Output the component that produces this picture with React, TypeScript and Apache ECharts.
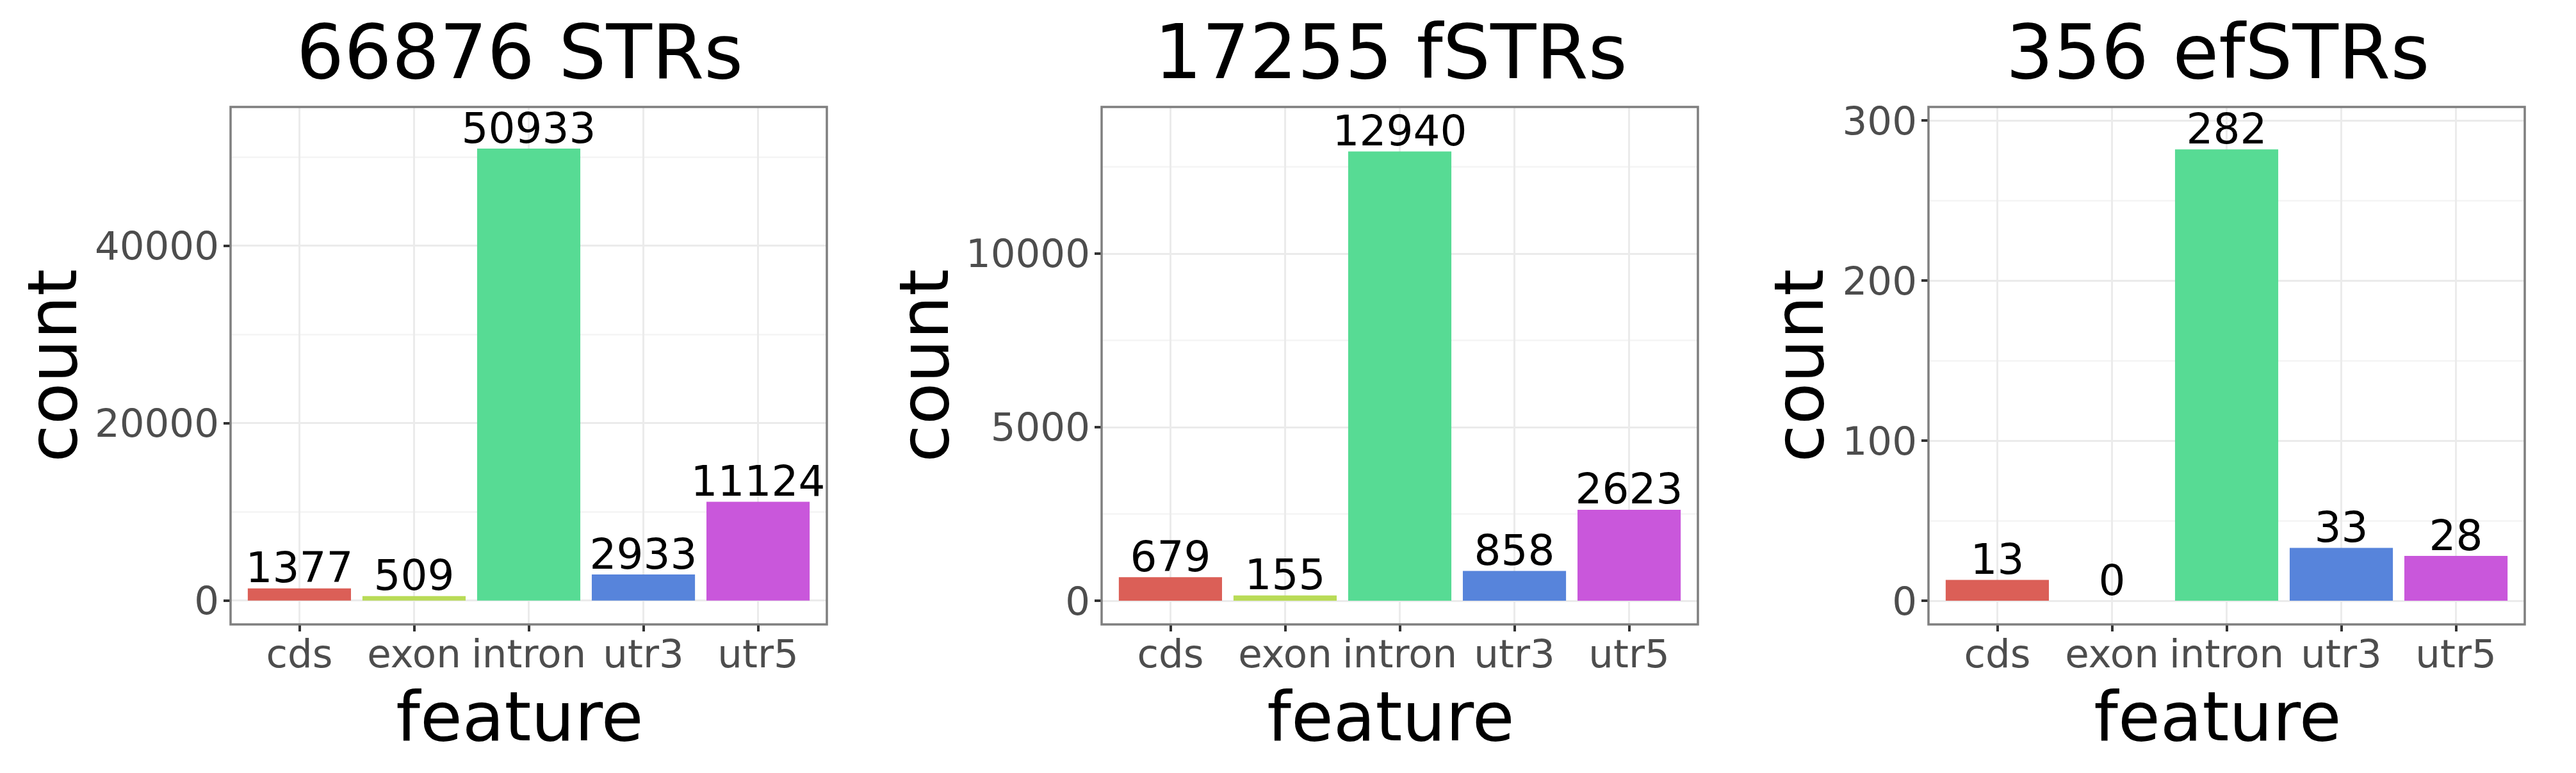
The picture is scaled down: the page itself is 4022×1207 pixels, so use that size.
import React, { useEffect, useRef } from "react";
import * as echarts from "echarts";

const categories = ["cds", "exon", "intron", "utr3", "utr5"];
const barColors = ["#DB5F57", "#B9DB57", "#57DB94", "#5784DB", "#C957DB"];
const panelTitles = ["66876 STRs", "17255 fSTRs", "356 efSTRs"];

const strCounts = [1377, 509, 50933, 2933, 11124];
const fstrCounts = [679, 155, 12940, 858, 2623];
const efstrCounts = [13, 0, 282, 33, 28];

const strMajorTicks = [0, 20000, 40000];
const strMinorTicks = [10000, 30000, 50000];
const fstrMajorTicks = [0, 5000, 10000];
const fstrMinorTicks = [2500, 7500, 12500];
const efstrMajorTicks = [0, 100, 200, 300];
const efstrMinorTicks = [50, 150, 250];

const yMins = [-2690, -680, -14.8];
const yMaxs = [55630, 14220, 308.5];

const seriesValues = [strCounts, fstrCounts, efstrCounts];
const majorTicks = [strMajorTicks, fstrMajorTicks, efstrMajorTicks];
const minorTicks = [strMinorTicks, fstrMinorTicks, efstrMinorTicks];

// layout (pixels)
const panelLefts = [360, 1720, 3011];
const panelWidth = 931;
const panelTop = 167;
const panelHeight = 808;
const yNameGaps = [225, 224, 149];

const FONT = "DejaVu Sans";

function buildOption() {
  const grid: any[] = [];
  const xAxis: any[] = [];
  const yAxis: any[] = [];
  const series: any[] = [];
  const title: any[] = [];
  const catIdx = categories.map((_, i) => i);

  for (let p = 0; p < 3; p++) {
    const left = panelLefts[p];
    const band = panelWidth / 5.2;
    const gA = grid.length;
    grid.push({
      left,
      top: panelTop,
      width: panelWidth,
      height: panelHeight,
      show: true,
      z: 3,
      backgroundColor: "transparent",
      borderColor: "#7F7F7F",
      borderWidth: 3.5,
      containLabel: false,
      outerBoundsMode: "none",
    });
    const gB = grid.length;
    grid.push({
      left: left + band * 0.1,
      top: panelTop,
      width: band * 5,
      height: panelHeight,
      show: false,
      containLabel: false,
      outerBoundsMode: "none",
    });

    xAxis.push({
      gridIndex: gA,
      type: "value",
      position: "bottom",
      min: -0.6,
      max: 4.6,
      axisLine: { show: false, onZero: false },
      axisTick: {
        show: true,
        length: 11,
        customValues: catIdx,
        lineStyle: { color: "#333333", width: 4 },
      },
      axisLabel: {
        show: true,
        customValues: catIdx,
        formatter: (v: number) => categories[Math.round(v)] ?? "",
        fontFamily: FONT,
        fontSize: 61,
        color: "#4D4D4D",
        margin: 15,
      },
      splitLine: { show: true, lineStyle: { color: "#EBEBEB", width: 3 } },
      name: "feature",
      nameLocation: "middle",
      nameGap: 90,
      nameTextStyle: {
        fontFamily: FONT,
        fontSize: 107,
        color: "#000000",
        padding: [0, 28, 0, 0],
      },
    });
    const xB = xAxis.length;
    xAxis.push({
      gridIndex: gB,
      type: "category",
      data: categories,
      show: false,
      axisLine: { onZero: false },
    });

    yAxis.push({
      gridIndex: gA,
      type: "value",
      position: "left",
      min: yMins[p],
      max: yMaxs[p],
      axisLine: { show: false, onZero: false },
      axisTick: {
        show: true,
        length: 11,
        customValues: majorTicks[p],
        lineStyle: { color: "#333333", width: 4 },
      },
      axisLabel: {
        show: true,
        customValues: majorTicks[p],
        formatter: (v: number) => String(v),
        fontFamily: FONT,
        fontSize: 61,
        color: "#4D4D4D",
        margin: 18,
      },
      splitLine: { show: true, lineStyle: { color: "#EBEBEB", width: 3 } },
      name: "count",
      nameLocation: "middle",
      nameGap: yNameGaps[p],
      nameTextStyle: { fontFamily: FONT, fontSize: 107, color: "#000000" },
    });
    yAxis.push({
      gridIndex: gA,
      type: "value",
      position: "left",
      min: yMins[p],
      max: yMaxs[p],
      axisLine: { show: false, onZero: false },
      axisTick: { show: false, customValues: minorTicks[p] },
      axisLabel: { show: false, customValues: minorTicks[p] },
      splitLine: { show: true, lineStyle: { color: "#F4F4F4", width: 2.5 } },
    });
    const yB = yAxis.length;
    yAxis.push({
      gridIndex: gB,
      type: "value",
      min: yMins[p],
      max: yMaxs[p],
      show: false,
      axisLine: { onZero: false },
      splitLine: { show: false },
    });

    series.push({
      type: "bar",
      xAxisIndex: xB,
      yAxisIndex: yB,
      barWidth: "90%",
      data: seriesValues[p].map((v, i) => ({
        value: v,
        itemStyle: { color: barColors[i] },
      })),
      label: {
        show: true,
        position: "top",
        distance: -1,
        fontFamily: FONT,
        fontSize: 66,
        color: "#000000",
      },
      z: 2,
    });

    title.push({
      text: panelTitles[p],
      left: left + panelWidth / 2 - 14,
      top: 23,
      padding: 0,
      textAlign: "center",
      textStyle: {
        fontFamily: FONT,
        fontSize: 117,
        fontWeight: "normal",
        color: "#000000",
      },
    });
  }

  return {
    animation: false,
    backgroundColor: "#FFFFFF",
    textStyle: { fontFamily: FONT },
    title,
    grid,
    xAxis,
    yAxis,
    series,
  };
}

export default function App() {
  const ref = useRef<HTMLDivElement>(null);
  useEffect(() => {
    document.body.style.margin = "0";
    if (!ref.current) return;
    const chart = echarts.init(ref.current, null, { renderer: "svg" });
    chart.setOption(buildOption() as any);
    return () => chart.dispose();
  }, []);
  return (
    <div
      ref={ref}
      style={{ position: "fixed", left: 0, top: 0, width: 4022, height: 1207, background: "#fff" }}
    />
  );
}
